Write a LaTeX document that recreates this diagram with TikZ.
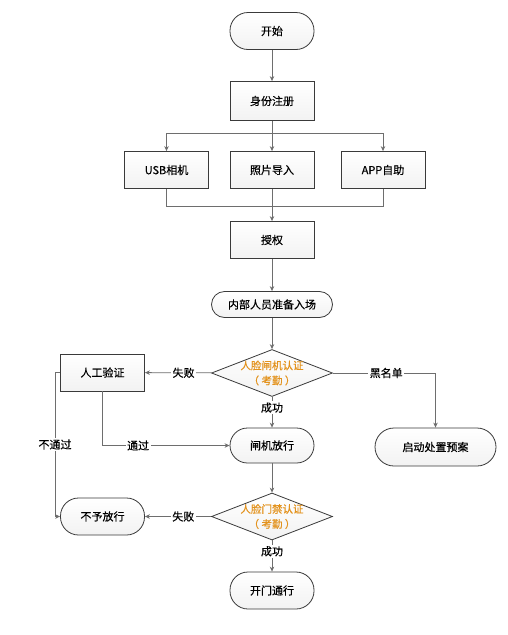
\documentclass[tikz,border=0pt]{standalone}
\usepackage{fontspec}
\newfontfamily\cjk[FakeBold=0.4]{Noto Sans CJK SC}
\usetikzlibrary{shapes.geometric,arrows.meta}
\definecolor{ln}{HTML}{6E6E6E}
\definecolor{bd}{HTML}{3A3A3A}
\definecolor{org}{HTML}{E3921C}
\tikzset{
  every node/.style={font=\cjk\fontsize{11}{14}\selectfont, text=black},
  box/.style={draw=bd, line width=0.8pt, top color=white, bottom color=black!5, minimum width=84pt, minimum height=37pt, inner sep=0pt},
  term/.style={box, rounded corners=18pt},
  dia/.style={draw=bd, line width=0.8pt, shape=diamond, top color=white, bottom color=black!5, minimum width=121pt, minimum height=47pt, inner sep=0pt},
  dtext/.style={text=org, align=center, font=\cjk\fontsize{10.5}{15}\selectfont},
  conn/.style={draw=ln, line width=0.8pt},
  arr/.style={conn, -{Stealth[length=5pt,width=4.5pt]}},
  lbl/.style={fill=white, inner sep=1.5pt}
}
\begin{document}
\begin{tikzpicture}[x=1pt,y=-1pt]
\path[use as bounding box] (0,0) rectangle (508,635);
\fill[white] (0,0) rectangle (508,635);
\node[term] (start) at (272,31) {开始};
\node[box, minimum height=39pt] (reg) at (272,101) {身份注册};
\node[box] (usb) at (166.5,170) {USB相机};
\node[box] (photo) at (272,170) {照片导入};
\node[box] (app) at (383,170) {APP自助};
\node[box, minimum height=37pt] (auth) at (272,240) {授权};
\node[term, minimum width=121pt, minimum height=26pt, rounded corners=13pt] (enter) at (272,304.5) {内部人员准备入场};
\node[dia] (d1) at (272,373) {};
\node[dtext] (d1t) at (d1) {人脸闸机认证\\（ 考勤 ）};
\node[box] (manual) at (102.5,372.5) {人工验证};
\node[term, minimum height=35pt, rounded corners=17.5pt] (gate) at (272,445.5) {闸机放行};
\node[term, minimum width=121pt, minimum height=38pt, rounded corners=19pt] (plan) at (435.5,447) {启动处置预案};
\node[dia] (d2) at (272,516.5) {};
\node[dtext] (d2t) at (d2) {人脸门禁认证\\（ 考勤 ）};
\node[term] (deny) at (102.5,516.5) {不予放行};
\node[term] (open) at (272,590.5) {开门通行};

\coordinate (b1) at (272,133);
\coordinate (b2) at (272,206);
\coordinate (m1) at (55,372.5);

\draw[arr] (start) -- (reg);
\draw[conn] (reg) -- (b1);
\draw[arr] (b1) -| (usb);
\draw[arr] (b1) -| (app);
\draw[arr] (b1) -- (photo);
\draw[conn] (usb) |- (b2);
\draw[conn] (app) |- (b2);
\draw[arr] (photo) -- (auth);
\draw[arr] (auth) -- (enter);
\draw[arr] (enter) -- (d1);
\draw[arr] (d1) -- node[lbl, pos=0.42]{失败} (manual);
\draw[arr] (d1) -- node[lbl, pos=0.35]{成功} (gate);
\draw[arr] (d1) -| node[lbl, pos=0.26]{黑名单} (plan);
\draw[arr] (manual) |- node[lbl, pos=0.64]{通过} (gate);
\draw[arr] (manual.west) -- (m1) |- node[lbl, pos=0.25]{不通过} (deny.west);
\draw[arr] (gate) -- (d2);
\draw[arr] (d2) -- node[lbl, pos=0.42]{失败} (deny);
\draw[arr] (d2) -- node[lbl, pos=0.35]{成功} (open);
\end{tikzpicture}
\end{document}
